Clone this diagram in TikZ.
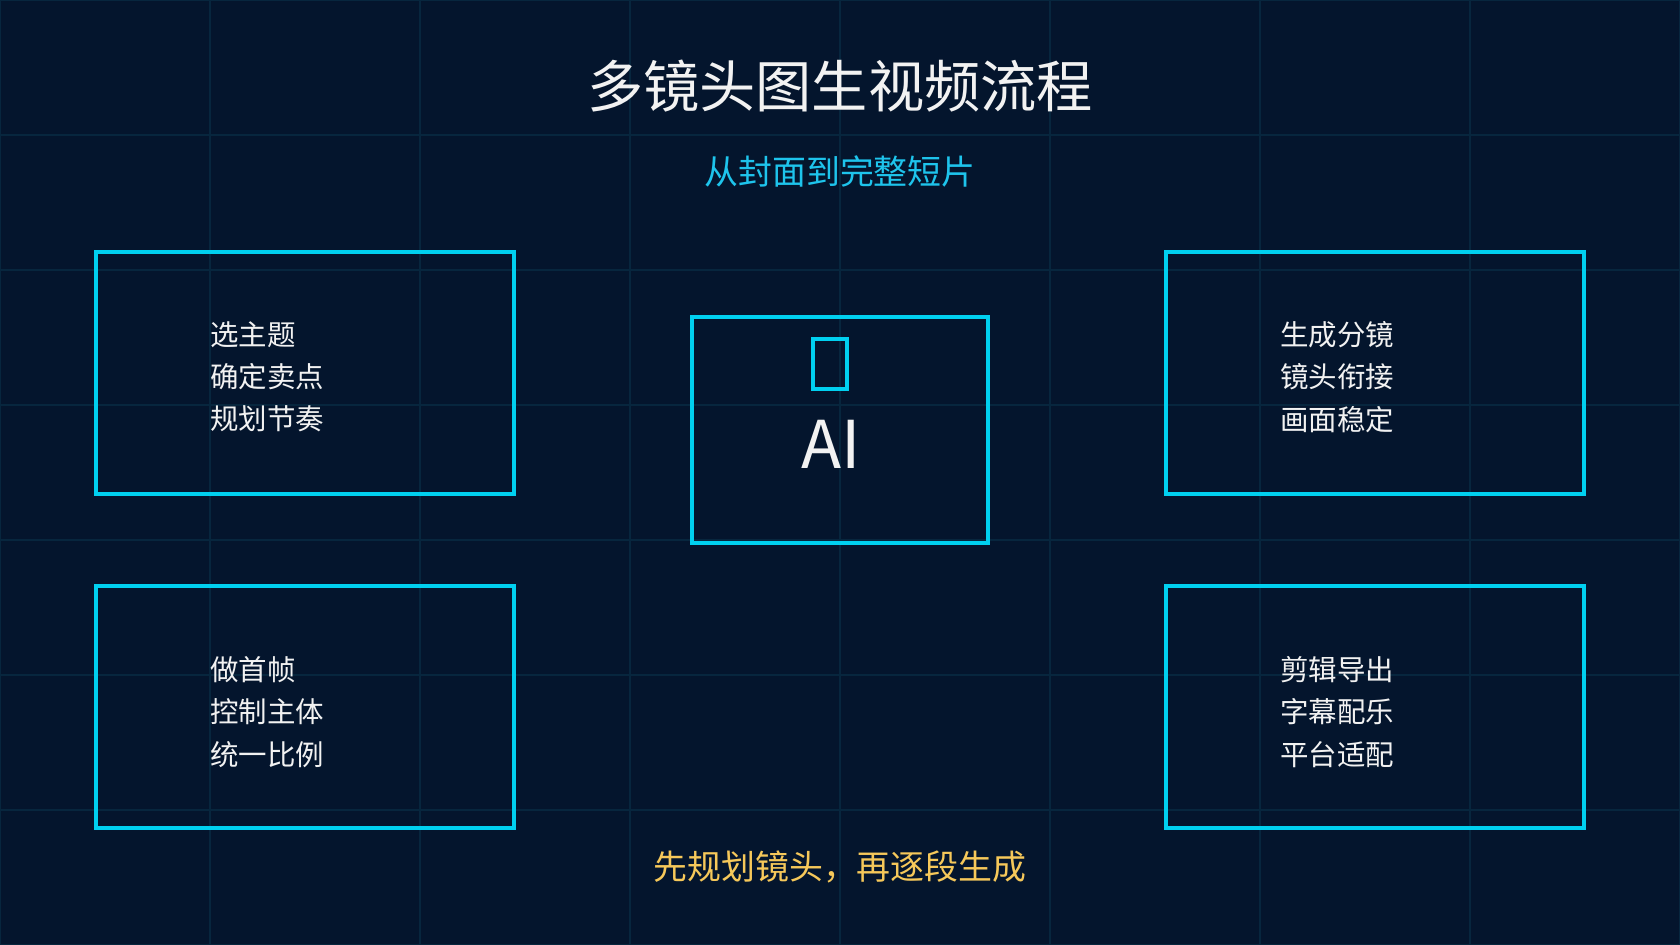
\documentclass[tikz,border=0pt]{standalone}
\usepackage{fontspec}
\setmainfont{Noto Sans CJK SC}
\usepackage{xcolor}

\definecolor{bgnavy}{RGB}{4,21,45}
\definecolor{gridblue}{RGB}{7,38,62}
\definecolor{framecyan}{RGB}{0,208,240}
\definecolor{subcyan}{RGB}{30,196,236}
\definecolor{notegold}{RGB}{246,200,90}
\definecolor{textwhite}{RGB}{242,242,242}

\begin{document}
\begin{tikzpicture}[x=0.02cm, y=-0.02cm,
    gridline/.style={line width=0.9pt, gridblue},
    stagebox/.style={draw=framecyan, line width=2.2pt},
    stagetext/.style={anchor=west, align=left, text=textwhite,
        font=\fontsize{16.2}{24}\selectfont},
    ]
    % Background
    \fill[bgnavy] (0,0) rectangle (1680,945);
    \useasboundingbox (0,0) rectangle (1680,945);

    % Grid for reference
    \foreach \gx in {0,210,...,1680}
        \draw[gridline] (\gx,0) -- (\gx,945);
    \foreach \gy in {0,135,...,945}
        \draw[gridline] (0,\gy) -- (1680,\gy);

    % Title and subtitle
    \node[text=textwhite, font=\fontsize{32}{36}\selectfont] (title) at (840,86) {多镜头图生视频流程};
    \node[text=subcyan, font=\fontsize{19.3}{22}\selectfont] (subtitle) at (840,172) {从封面到完整短片};

    % Stage boxes
    \draw[stagebox] (96,252) rectangle (514,494);
    \draw[stagebox] (96,586) rectangle (514,828);
    \draw[stagebox] (1166,252) rectangle (1584,494);
    \draw[stagebox] (1166,586) rectangle (1584,828);
    \node[stagetext] (plan) at (204,377) {选主题\\确定卖点\\规划节奏};
    \node[stagetext] (frame) at (204,712) {做首帧\\控制主体\\统一比例};
    \node[stagetext] (shots) at (1274,377) {生成分镜\\镜头衔接\\画面稳定};
    \node[stagetext] (edit) at (1274,712) {剪辑导出\\字幕配乐\\平台适配};

    % Centre AI box
    \draw[stagebox] (692,317) rectangle (988,543);
    \draw[framecyan, line width=2.3pt] (813,339) rectangle (847,389);
    \node[text=textwhite, font=\fontsize{37.5}{40}\selectfont] (ai) at (831,444) {AI};

    % Bottom note
    \node[text=notegold, font=\fontsize{19.3}{22}\selectfont] (note) at (840,867) {先规划镜头，再逐段生成};
\end{tikzpicture}
\end{document}
